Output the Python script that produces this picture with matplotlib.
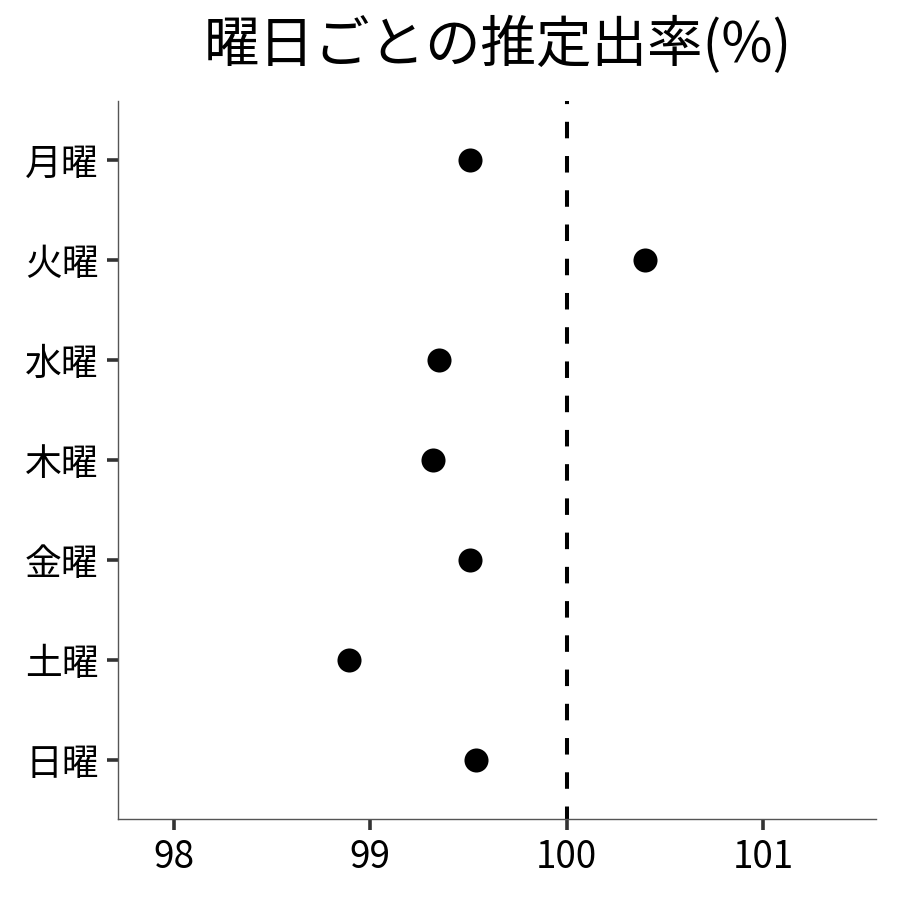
import matplotlib
matplotlib.use("Agg")
import matplotlib.pyplot as plt

plt.rcParams['font.family'] = ['Noto Sans CJK JP', 'DejaVu Sans']

days = ["月曜", "火曜", "水曜", "木曜", "金曜", "土曜", "日曜"]
rates = [99.51, 100.40, 99.35, 99.32, 99.51, 98.89, 99.54]
xticks = [98, 99, 100, 101]
ref_value = 100

fig = plt.figure(figsize=(9, 9), dpi=100)
ax = fig.add_axes([118/900, 1-819/900, (876-118)/900, (819-101)/900])

n = len(days)
ypos = [n - i for i in range(n)]
ax.scatter(rates, ypos, s=300, color='black', zorder=3, linewidths=0)
ax.axvline(ref_value, color='black', linestyle=(1, (4.1, 4.4)), linewidth=2.9, zorder=2)

ax.set_xlim(97.715, 101.576)
ax.set_ylim(1 - 0.59, n + 0.59)
ax.set_xticks(xticks)
ax.set_xticklabels([str(t) for t in xticks], fontsize=26.5)
ax.set_yticks(ypos)
ax.set_yticklabels(days, fontsize=26.5)

for s in ['top', 'right']:
    ax.spines[s].set_visible(False)
for s in ['left', 'bottom']:
    ax.spines[s].set_color('#555555')
    ax.spines[s].set_linewidth(1.0)
ax.tick_params(axis='both', length=8, width=2.6, color='#333333', pad=6)

fig.suptitle("曜日ごとの推定出率(%)", fontsize=40, x=0.553, y=0.981)

fig.savefig("out.png", dpi=100)
